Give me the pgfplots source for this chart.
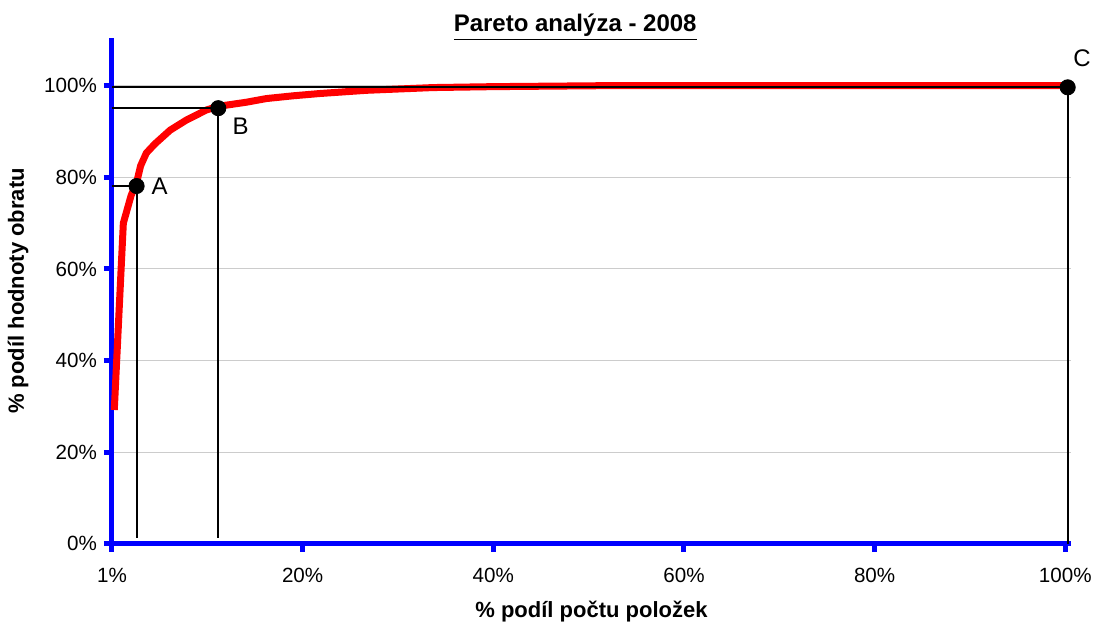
\documentclass[border=0pt]{standalone}
\usepackage{fontspec}
\setmainfont{Liberation Sans}
\usepackage{pgfplots}
\pgfplotsset{compat=1.18}
\begin{document}
\begin{tikzpicture}
\begin{axis}[
  scale only axis, width=479.5pt, height=252.8pt,
  xmin=0, xmax=100.6, ymin=0, ymax=110.4,
  axis x line*=bottom, axis y line*=left,
  axis line style={blue, line width=2.5pt, -},
  xtick={0,20,40,60,80,100},
  xticklabels={1\%,20\%,40\%,60\%,80\%,100\%},
  ytick={0,20,40,60,80,100},
  yticklabels={0\%,20\%,40\%,60\%,80\%,100\%},
  /pgf/number format/assume math mode=true,
  tick align=outside, major tick length=4pt,
  tick style={blue, line width=2.5pt},
  ymajorgrids, grid style={gray!40, line width=0.5pt},
  tick label style={font=\fontsize{10.3}{12}\selectfont, black},
  xticklabel style={yshift=-4.5pt},
  xlabel={\% podíl počtu položek},
  ylabel={\% podíl hodnoty obratu},
  label style={font=\bfseries\fontsize{11}{13}\selectfont},
  xlabel style={at={(axis description cs:0.5,-0.134)}, anchor=center},
  ylabel style={at={(axis description cs:-0.098,0.5)}, anchor=center},
  title={\underline{Pareto analýza - 2008}},
  title style={at={(axis description cs:0.483,0.998)}, anchor=center, font=\bfseries\fontsize{12}{14}\selectfont},
  clip=false,
]
\addplot[red, line width=3.5pt, line join=round] coordinates {
  (0.24,29.2) (1.19,70.0) (2.0,76.0) (2.6,79.0) (3.0,82.5) (3.6,85.3) (4.5,87.3)
  (6.1,90.3) (7.8,92.5) (9.9,94.7) (11.15,95.5) (14.1,96.4) (16.2,97.2)
  (19.0,97.8) (21.8,98.3) (26.7,99.0) (33.7,99.6) (40.0,99.8) (51.0,100.0)
  (100.25,100.0)
};
\addplot[black, line width=1pt] coordinates {(0,78.1) (2.58,78.1) (2.58,1.3)};
\addplot[black, line width=1pt] coordinates {(0,95.1) (11.15,95.1) (11.15,1.3)};
\addplot[black, line width=1pt] coordinates {(0,99.65) (100.25,99.65) (100.25,0)};
\addplot[only marks, mark=*, mark size=3.8pt, black] coordinates {(2.58,78.1) (11.15,95.1) (100.25,99.65)};
\node[font=\fontsize{12}{14}\selectfont] at (axis cs:5.0,78.0) {A};
\node[font=\fontsize{12}{14}\selectfont] at (axis cs:13.5,91.2) {B};
\node[font=\fontsize{12}{14}\selectfont] at (axis cs:101.75,106.0) {C};
\end{axis}
\pgfresetboundingbox
\path[use as bounding box] (-56pt,-39.15pt) rectangle (492pt,271.85pt);
\end{tikzpicture}
\end{document}
